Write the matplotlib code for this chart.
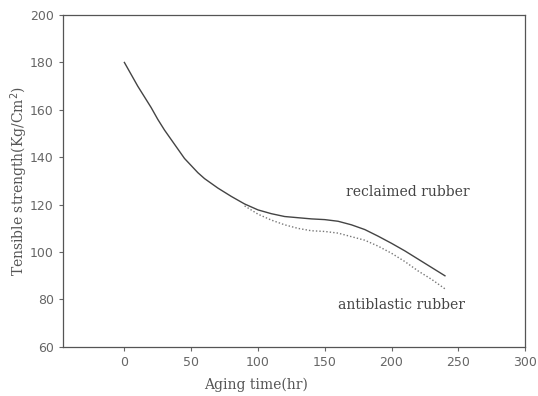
import matplotlib
matplotlib.use('Agg')
import matplotlib.pyplot as plt

# values
hours = [0, 5, 10, 15, 20, 25, 30, 35, 40, 45, 50, 55, 60, 70, 80, 90, 100,
         110, 120, 130, 140, 150, 160, 170, 180, 190, 200, 210, 220, 230, 240]
reclaimed = [180, 175, 170, 165.5, 161, 156, 151.5, 147.5, 143.5, 139.5, 136.5,
             133.5, 131, 127, 123.5, 120.3, 117.8, 116.2, 115, 114.5, 114,
             113.7, 113, 111.5, 109.5, 106.7, 103.7, 100.5, 97, 93.5, 90]
hours_anti = [90, 100, 110, 120, 130, 140, 150, 160, 170, 180, 190, 200, 210,
              220, 230, 240]
antiblastic = [119.5, 116, 113.5, 111.5, 110, 109, 108.7, 108, 106.5, 105,
               102.5, 99.5, 96, 92, 88.5, 84.5]
xticks = [0, 50, 100, 150, 200, 250, 300]
yticks = [60, 80, 100, 120, 140, 160, 180, 200]

my_dpi = 100
fig = plt.figure(figsize=(538/my_dpi, 396/my_dpi), dpi=my_dpi)
ax = fig.add_axes([0.117, 0.124, 0.859, 0.838])

ax.plot(hours, reclaimed, color='#444444', linewidth=1.0)
ax.plot(hours_anti, antiblastic, color='#777777', linewidth=1.0, linestyle=(0, (1, 1.5)))

ax.set_xlim(-46, 300)
ax.set_ylim(60, 200)
ax.set_xticks(xticks)
ax.set_yticks(yticks)
ax.tick_params(direction='out', length=3, width=0.8, colors='#666666',
               labelsize=9, labelcolor='#666666')
for s in ax.spines.values():
    s.set_color('#555555')
    s.set_linewidth(0.9)

serif = ['DejaVu Serif']
ax.text(212, 125.3, 'reclaimed rubber', family=serif, fontsize=10,
        color='#444444', ha='center', va='center')
ax.text(207.5, 77.6, 'antiblastic rubber', family=serif, fontsize=10,
        color='#444444', ha='center', va='center')

fig.text(256/538, 1 - 385/396, 'Aging time(hr)', family=serif, fontsize=10,
         color='#555555', ha='center', va='center')
fig.text(19/538, 1 - 181/396, 'Tensible strength(Kg/Cm$^2$)', family=serif,
         fontsize=10, color='#555555', ha='center', va='center', rotation=90)

plt.savefig('out.png', dpi=my_dpi)
